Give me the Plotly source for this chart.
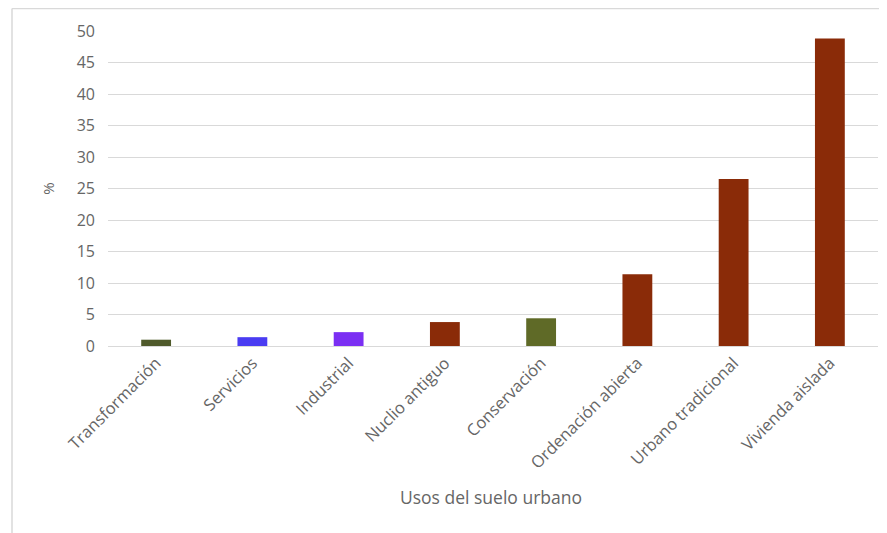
import plotly.graph_objects as go

categories = ["Transformación", "Servicios", "Industrial", "Nuclio antiguo",
              "Conservación", "Ordenación abierta", "Urbano tradicional", "Vivienda aislada"]
values = [1.0, 1.4, 2.2, 3.8, 4.4, 11.4, 26.5, 48.8]
colors = ["#4f5a2b", "#4a3cf2", "#7b2ff3", "#8a2b08", "#5f6a27", "#8a2b08", "#8a2b08", "#8a2b08"]
y_ticks = [0, 5, 10, 15, 20, 25, 30, 35, 40, 45, 50]

fig = go.Figure(go.Bar(x=categories, y=values, marker=dict(color=colors, line=dict(width=0)),
                       width=0.31))

# page body has an 8px offset
OFF = 8
W, H = 887 - OFF, 533 - OFF
L, R, T, B = 108 - OFF, 9, 31 - OFF, 533 - 346
pw, ph = W - L - R, H - T - B

fig.update_layout(
    width=W, height=H,
    margin=dict(l=L, r=R, t=T, b=B),
    paper_bgcolor="white", plot_bgcolor="white",
    font=dict(family="Open Sans, Lato, sans-serif", size=16, color="#595959"),
    showlegend=False,
)
fig.update_yaxes(range=[0, 50], tickvals=y_ticks, showgrid=True, gridcolor="#d9d9d9", gridwidth=1,
                 zeroline=False, showline=False, ticks="", ticklen=0, ticklabelstandoff=12,
                 tickfont=dict(size=16, color="#666666"),
                 title=dict(text="%", font=dict(size=15, color="#666666"), standoff=18))
fig.update_xaxes(tickangle=-45, showline=True, linecolor="#d9d9d9", linewidth=1, ticks="",
                 showgrid=False, tickfont=dict(size=16.5, color="#666666"))

fig.add_annotation(text="Usos del suelo urbano", xref="paper", yref="paper",
                   x=(491 - 108) / pw, y=(346 - 497) / ph, showarrow=False,
                   font=dict(size=17.5, color="#666666"), xanchor="center", yanchor="middle")

# frame
x0 = (12 - 108) / pw
y_top = (346 - 8.5) / ph
y_bot = (346 - 533) / ph
fig.add_shape(type="line", xref="paper", yref="paper", x0=x0, x1=(W - L) / pw, y0=y_top, y1=y_top,
              line=dict(color="#d9d9d9", width=1.5))
fig.add_shape(type="line", xref="paper", yref="paper", x0=x0, x1=x0, y0=y_top, y1=y_bot,
              line=dict(color="#d9d9d9", width=1.5))

fig.write_html("out.html")
